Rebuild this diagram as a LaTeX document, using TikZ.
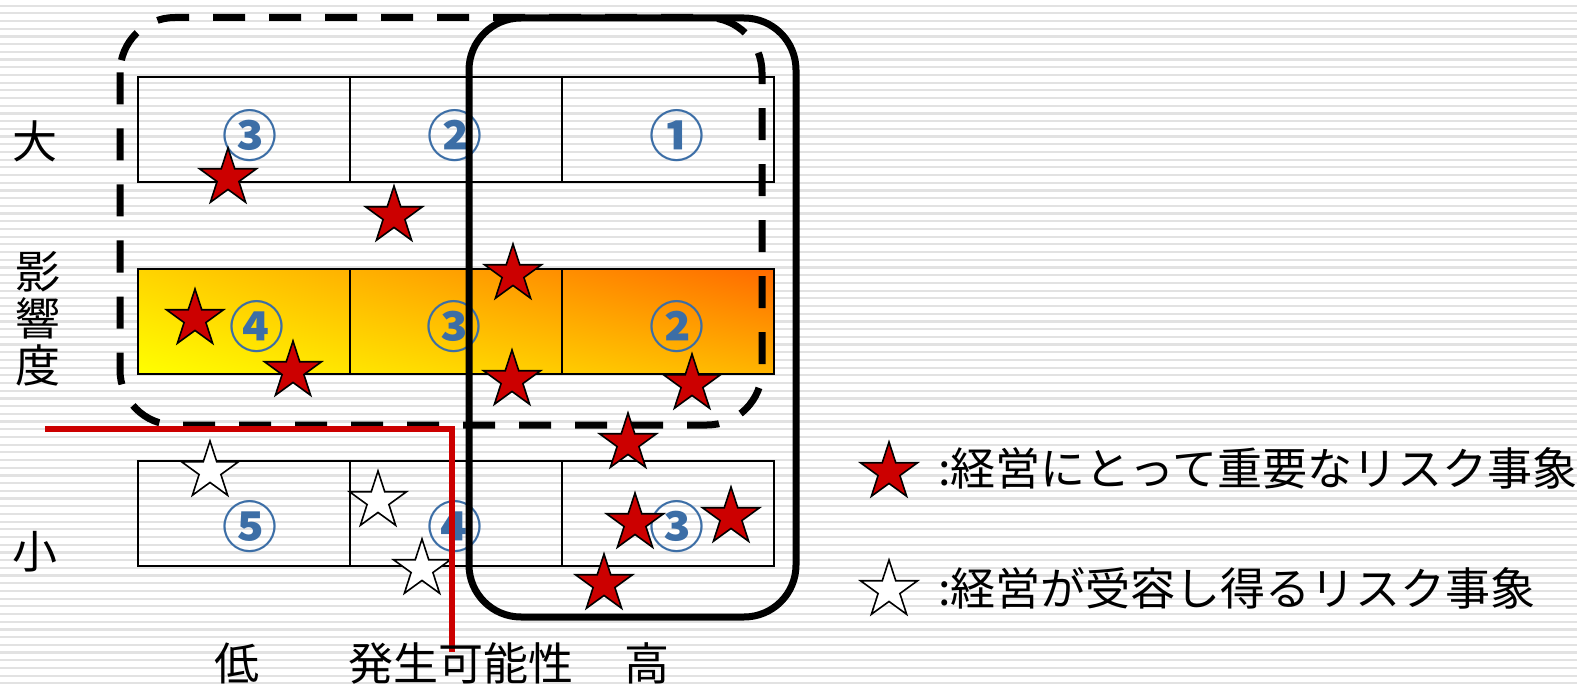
\documentclass[tikz,border=0pt]{standalone}
\usepackage{fontspec}
\setmainfont{Noto Sans CJK JP}
\usetikzlibrary{shapes.geometric,shadings}
\definecolor{numblue}{HTML}{3C6EA6}
\definecolor{starred}{HTML}{CC0000}
\definecolor{stripecol}{HTML}{E2E2E2}
\definecolor{redline}{HTML}{CC0000}
\definecolor{gLL}{HTML}{FFFF00}
\definecolor{gUL}{HTML}{FFD400}
\definecolor{gLR}{HTML}{FFB400}
\definecolor{gUR}{HTML}{FF6A00}
\begin{document}
\begin{tikzpicture}[x=1pt,y=-1pt,
  stripeline/.style={draw=stripecol, line width=2.2pt},
  cell/.style={draw=black, line width=1.8pt, minimum width=212pt, minimum height=105pt, inner sep=0pt, outer sep=0pt},
  num/.style={text=numblue, font=\fontsize{55}{55}\selectfont\bfseries, inner sep=0pt},
  lab/.style={text=black, font=\fontsize{45}{47}\selectfont, inner sep=0pt, align=center},
  legtext/.style={text=black, font=\fontsize{45}{47}\selectfont, inner sep=0pt, anchor=west},
  starbase/.style={star, star points=5, star point ratio=2.618, minimum size=60pt, inner sep=0pt, draw=black, line width=1.6pt},
  redstar/.style={starbase, fill=starred},
  whitestar/.style={starbase, fill=white},
  dashbox/.style={draw=black, line width=7pt, dash pattern=on 32pt off 24pt, rounded corners=55pt},
  solidbox/.style={draw=black, line width=7pt, rounded corners=52pt},
  redpath/.style={draw=redline, line width=6.5pt}
]
\useasboundingbox (0,0) rectangle (1577,687);
\fill[white] (0,0) rectangle (1577,687);
\foreach \i in {0,...,89} {
  \draw[stripeline] (0,{5.7+7.7*\i}) -- (1577,{5.7+7.7*\i});
}
% middle row gradient
\shade[upper left=gUL, upper right=gUR, lower left=gLL, lower right=gLR] (138,269) rectangle (774,374);
% cells
\node[cell] (t1) at (244,129.5) {};
\node[cell] (t2) at (456,129.5) {};
\node[cell] (t3) at (668,129.5) {};
\node[cell, line width=2.4pt] (m1) at (244,321.5) {};
\node[cell, line width=2.4pt] (m2) at (456,321.5) {};
\node[cell, line width=2.4pt] (m3) at (668,321.5) {};
\node[cell] (b1) at (244,513.5) {};
\node[cell] (b2) at (456,513.5) {};
\node[cell] (b3) at (668,513.5) {};
% circled numbers
\node[num] (nt1) at (250,136) {③};
\node[num] (nt2) at (455,136) {②};
\node[num] (nt3) at (677,136) {①};
\node[num] (nm1) at (257,327) {④};
\node[num] (nm2) at (454,327) {③};
\node[num] (nm3) at (677,327) {②};
\node[num] (nb1) at (250,527) {⑤};
\node[num] (nb2) at (455,527) {④};
\node[num] (nb3) at (677,527) {③};
% group outlines
\draw[dashbox] (120,17.5) rectangle (762,425);
\draw[solidbox] (469,18) rectangle (796,617);
% stars
\node[redstar] (sA) at (228,178) {};
\node[redstar] (sB) at (394,216) {};
\node[redstar] (sC) at (513,274) {};
\node[redstar] (sD) at (195,319) {};
\node[redstar] (sE) at (293,371) {};
\node[redstar] (sF) at (512,380) {};
\node[redstar] (sG) at (692,384) {};
\node[redstar] (sH) at (628,443) {};
\node[redstar] (sI) at (635,523) {};
\node[redstar] (sJ) at (731,517) {};
\node[redstar] (sK) at (604,584) {};
\node[whitestar] (wA) at (210,471) {};
\node[whitestar] (wB) at (378,501) {};
\node[whitestar] (wC) at (422,569) {};
% red boundary line
\coordinate (rStart) at (45,429);
\coordinate (rCorner) at (452,429);
\coordinate (rEnd) at (452,652);
\draw[redpath] (rStart) -- (rCorner) -- (rEnd);
% axis labels
\node[lab] (lDai) at (35,141) {大};
\node[lab] (lEikyo) at (38,319) {影\\響\\度};
\node[lab] (lSho) at (35,552) {小};
\node[lab] (lTei) at (237,663) {低};
\node[lab] (lHassei) at (461,663) {発生可能性};
\node[lab] (lKo) at (647,663) {高};
% legend
\node[redstar] (legR) at (889,472) {};
\node[whitestar] (legW) at (889,590) {};
\node[legtext] (legRt) at (938,468) {:経営にとって重要なリスク事象};
\node[legtext] (legWt) at (938,588) {:経営が受容し得るリスク事象};
\end{tikzpicture}
\end{document}
